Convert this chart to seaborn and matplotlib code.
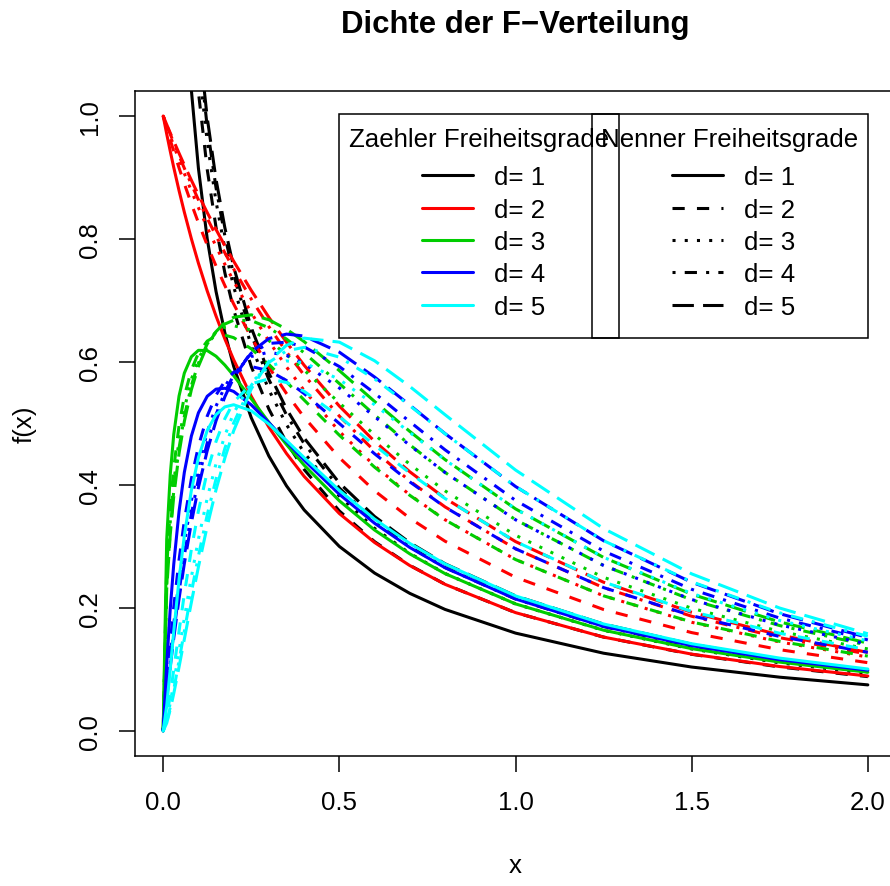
import numpy as np
import pandas as pd
import matplotlib
matplotlib.use("Agg")
import matplotlib.pyplot as plt
from matplotlib.lines import Line2D
from matplotlib.patches import Rectangle
import seaborn as sns

# ---------------- data ----------------
x_grid = [0, 0.01, 0.02, 0.03, 0.045, 0.06, 0.08, 0.1, 0.125, 0.15, 0.175,
          0.2, 0.25, 0.3, 0.35, 0.4, 0.5, 0.6, 0.7, 0.8, 1.0, 1.25, 1.5, 1.75, 2.0]

nan = float("nan")
# each list: rows for Nenner d2 = 1..5, Zaehler d1 fixed
dens_d1_1 = [
    [nan, 3.1516, 2.2067, 1.7842, 1.4359, 1.2259, 1.0420, 0.9151, 0.8003, 0.7147, 0.6476, 0.5931, 0.5093, 0.4470, 0.3986, 0.3595, 0.3001, 0.2568, 0.2238, 0.1977, 0.1592, 0.1265, 0.1040, 0.0875, 0.0750],
    [nan, 3.5092, 2.4630, 1.9961, 1.6120, 1.3808, 1.1786, 1.0391, 0.9131, 0.8190, 0.7452, 0.6853, 0.5926, 0.5234, 0.4692, 0.4253, 0.3578, 0.3079, 0.2694, 0.2386, 0.1924, 0.1527, 0.1247, 0.1041, 0.0884],
    [nan, 3.6511, 2.5647, 2.0802, 1.6818, 1.4423, 1.2329, 1.0885, 0.9581, 0.8608, 0.7844, 0.7224, 0.6264, 0.5546, 0.4982, 0.4525, 0.3819, 0.3295, 0.2888, 0.2561, 0.2067, 0.1638, 0.1334, 0.1108, 0.0936],
    [nan, 3.7267, 2.6188, 2.1250, 1.7190, 1.4750, 1.2618, 1.1149, 0.9821, 0.8831, 0.8054, 0.7422, 0.6445, 0.5714, 0.5140, 0.4672, 0.3951, 0.3414, 0.2995, 0.2658, 0.2147, 0.1699, 0.1381, 0.1144, 0.0962],
    [nan, 3.7734, 2.6523, 2.1527, 1.7420, 1.4953, 1.2797, 1.1312, 0.9970, 0.8970, 0.8185, 0.7546, 0.6558, 0.5819, 0.5238, 0.4765, 0.4033, 0.3488, 0.3062, 0.2719, 0.2197, 0.1738, 0.1411, 0.1166, 0.0978],
]
dens_d1_2 = [
    [1, 0.9707, 0.9429, 0.9163, 0.8787, 0.8437, 0.8004, 0.7607, 0.7155, 0.6747, 0.6375, 0.6037, 0.5443, 0.4941, 0.4512, 0.4141, 0.3536, 0.3065, 0.2690, 0.2385, 0.1925, 0.1527, 0.1250, 0.1048, 0.0894],
    [1, 0.9803, 0.9612, 0.9426, 0.9157, 0.8900, 0.8573, 0.8264, 0.7901, 0.7561, 0.7243, 0.6944, 0.6400, 0.5917, 0.5487, 0.5102, 0.4444, 0.3906, 0.3460, 0.3086, 0.2500, 0.1975, 0.1600, 0.1322, 0.1111],
    [1, 0.9835, 0.9674, 0.9517, 0.9288, 0.9066, 0.8782, 0.8510, 0.8187, 0.7880, 0.7589, 0.7313, 0.6802, 0.6339, 0.5920, 0.5538, 0.4871, 0.4312, 0.3839, 0.3435, 0.2789, 0.2198, 0.1768, 0.1447, 0.1203],
    [1, 0.9852, 0.9706, 0.9563, 0.9354, 0.9151, 0.8890, 0.8638, 0.8337, 0.8050, 0.7775, 0.7513, 0.7023, 0.6575, 0.6164, 0.5787, 0.5120, 0.4552, 0.4064, 0.3644, 0.2963, 0.2331, 0.1866, 0.1517, 0.1250],
    [1, 0.9861, 0.9725, 0.9591, 0.9395, 0.9203, 0.8956, 0.8717, 0.8430, 0.8155, 0.7891, 0.7639, 0.7164, 0.6726, 0.6322, 0.5948, 0.5283, 0.4710, 0.4215, 0.3784, 0.3080, 0.2419, 0.1930, 0.1561, 0.1278],
]
dens_d1_3 = [
    [0, 0.3118, 0.4164, 0.4823, 0.5447, 0.5819, 0.6085, 0.6190, 0.6186, 0.6094, 0.5950, 0.5779, 0.5401, 0.5019, 0.4657, 0.4323, 0.3743, 0.3268, 0.2880, 0.2559, 0.2067, 0.1639, 0.1339, 0.1120, 0.0955],
    [0, 0.2655, 0.3620, 0.4276, 0.4965, 0.5442, 0.5871, 0.6144, 0.6340, 0.6426, 0.6437, 0.6396, 0.6215, 0.5961, 0.5677, 0.5382, 0.4810, 0.4290, 0.3832, 0.3433, 0.2788, 0.2198, 0.1773, 0.1457, 0.1218],
    [0, 0.2472, 0.3394, 0.4036, 0.4734, 0.5237, 0.5718, 0.6050, 0.6323, 0.6485, 0.6567, 0.6590, 0.6519, 0.6348, 0.6123, 0.5869, 0.5335, 0.4816, 0.4337, 0.3905, 0.3183, 0.2499, 0.1996, 0.1620, 0.1334],
    [0, 0.2373, 0.3270, 0.3903, 0.4600, 0.5114, 0.5618, 0.5980, 0.6293, 0.6496, 0.6617, 0.6679, 0.6674, 0.6557, 0.6373, 0.6150, 0.5650, 0.5140, 0.4653, 0.4205, 0.3436, 0.2690, 0.2133, 0.1714, 0.1394],
    [0, 0.2311, 0.3191, 0.3818, 0.4514, 0.5033, 0.5550, 0.5929, 0.6267, 0.6494, 0.6641, 0.6727, 0.6767, 0.6687, 0.6533, 0.6332, 0.5860, 0.5359, 0.4871, 0.4413, 0.3612, 0.2822, 0.2224, 0.1773, 0.1429],
]
dens_d1_4 = [
    [0, 0.1088, 0.1980, 0.2712, 0.3570, 0.4205, 0.4796, 0.5174, 0.5443, 0.5559, 0.5573, 0.5521, 0.5303, 0.5014, 0.4707, 0.4404, 0.3849, 0.3378, 0.2984, 0.2655, 0.2147, 0.1701, 0.1388, 0.1160, 0.0988],
    [0, 0.0754, 0.1422, 0.2015, 0.2780, 0.3417, 0.4100, 0.4630, 0.5120, 0.5462, 0.5690, 0.5831, 0.5926, 0.5859, 0.5699, 0.5487, 0.5000, 0.4508, 0.4051, 0.3641, 0.2963, 0.2332, 0.1875, 0.1536, 0.1280],
    [0, 0.0636, 0.1216, 0.1743, 0.2447, 0.3055, 0.3741, 0.4302, 0.4859, 0.5283, 0.5600, 0.5829, 0.6089, 0.6160, 0.6107, 0.5973, 0.5577, 0.5112, 0.4644, 0.4203, 0.3435, 0.2692, 0.2138, 0.1724, 0.1412],
    [0, 0.0577, 0.1109, 0.1599, 0.2264, 0.2852, 0.3528, 0.4098, 0.4682, 0.5146, 0.5509, 0.5787, 0.6144, 0.6302, 0.6322, 0.6247, 0.5926, 0.5493, 0.5029, 0.4572, 0.3750, 0.2926, 0.2304, 0.1836, 0.1481],
    [0, 0.0540, 0.1043, 0.1510, 0.2149, 0.2721, 0.3389, 0.3961, 0.4559, 0.5044, 0.5434, 0.5743, 0.6163, 0.6381, 0.6454, 0.6422, 0.6160, 0.5756, 0.5299, 0.4836, 0.3976, 0.3094, 0.2418, 0.1907, 0.1520],
]
dens_d1_5 = [
    [0, 0.0410, 0.1008, 0.1621, 0.2464, 0.3174, 0.3913, 0.4446, 0.4887, 0.5144, 0.5270, 0.5305, 0.5207, 0.4990, 0.4724, 0.4446, 0.3913, 0.3446, 0.3050, 0.2716, 0.2197, 0.1740, 0.1419, 0.1185, 0.1008],
    [0, 0.0227, 0.0589, 0.0997, 0.1624, 0.2226, 0.2953, 0.3578, 0.4215, 0.4708, 0.5078, 0.5346, 0.5646, 0.5726, 0.5667, 0.5524, 0.5111, 0.4648, 0.4195, 0.3780, 0.3081, 0.2423, 0.1943, 0.1589, 0.1321],
    [0, 0.0171, 0.0453, 0.0781, 0.1306, 0.1833, 0.2505, 0.3117, 0.3786, 0.4346, 0.4804, 0.5169, 0.5668, 0.5928, 0.6017, 0.5988, 0.5716, 0.5305, 0.4854, 0.4409, 0.3612, 0.2824, 0.2236, 0.1797, 0.1465],
    [0, 0.0145, 0.0387, 0.0673, 0.1141, 0.1622, 0.2252, 0.2845, 0.3515, 0.4098, 0.4594, 0.5009, 0.5620, 0.5993, 0.6182, 0.6238, 0.6079, 0.5726, 0.5290, 0.4834, 0.3977, 0.3095, 0.2426, 0.1921, 0.1540],
    [0, 0.0129, 0.0348, 0.0609, 0.1040, 0.1492, 0.2092, 0.2667, 0.3331, 0.3923, 0.4439, 0.4882, 0.5563, 0.6010, 0.6271, 0.6388, 0.6323, 0.6020, 0.5602, 0.5143, 0.4244, 0.3292, 0.2555, 0.1999, 0.1581],
]

d_levels = [1, 2, 3, 4, 5]
legend_labels = ["d= 1", "d= 2", "d= 3", "d= 4", "d= 5"]
x_ticks = [0.0, 0.5, 1.0, 1.5, 2.0]
x_ticklabels = ["0.0", "0.5", "1.0", "1.5", "2.0"]
y_ticks = [0.0, 0.2, 0.4, 0.6, 0.8, 1.0]
y_ticklabels = ["0.0", "0.2", "0.4", "0.6", "0.8", "1.0"]

title_text = "Dichte der F\u2212Verteilung"
legend1_title = "Zaehler Freiheitsgrade"
legend2_title = "Nenner Freiheitsgrade"

# ---------------- long table ----------------
rows = []
for d1, block in zip(d_levels, [dens_d1_1, dens_d1_2, dens_d1_3, dens_d1_4, dens_d1_5]):
    for d2, ys in zip(d_levels, block):
        for xv, yv in zip(x_grid, ys):
            rows.append((d1, d2, xv, yv))
df = pd.DataFrame(rows, columns=["d1", "d2", "x", "f"]).dropna()

# ---------------- styling ----------------
sns.set_style("ticks")
plt.rcParams["font.family"] = ["Liberation Sans", "DejaVu Sans"]
plt.rcParams["text.color"] = "black"
plt.rcParams["axes.labelcolor"] = "black"
plt.rcParams["xtick.color"] = "black"
plt.rcParams["ytick.color"] = "black"
plt.rcParams["axes.edgecolor"] = "black"

colors = {1: "#000000", 2: "#FF0000", 3: "#00CD00", 4: "#0000FF", 5: "#00FFFF"}
dash_map = {1: "", 2: (4, 4), 3: (1, 3), 4: (1, 3, 4, 3), 5: (7, 3)}
LW = 2.2
FS = 18.6

W, H = 890, 887
fig = plt.figure(figsize=(W / 100, H / 100), dpi=100)
ax_l, ax_r, ax_t, ax_b = 135.0, 896.0, 92.4, 756.6
ax = fig.add_axes([ax_l / W, (H - ax_b) / H, (ax_r - ax_l) / W, (ax_b - ax_t) / H])


def fx(px):
    return (px - ax_l) / (ax_r - ax_l)


def fy(py):
    return (ax_b - py) / (ax_b - ax_t)


sns.lineplot(data=df, x="x", y="f", hue="d1", style="d2",
             palette=colors, dashes=dash_map, estimator=None, errorbar=None,
             sort=False, linewidth=LW, legend=False, ax=ax)

ax.set_xlim(-0.08, 2.08)
ax.set_ylim(-0.04, 1.04)
ax.set_xticks(x_ticks)
ax.set_xticklabels(x_ticklabels)
ax.set_yticks(y_ticks)
ax.set_yticklabels(y_ticklabels, rotation=90, va="center")
ax.tick_params(axis="both", direction="out", length=11.5, width=1.1,
               labelsize=FS, colors="black", labelcolor="black")
ax.tick_params(axis="x", pad=13)
ax.tick_params(axis="y", pad=12.3)
for s in ax.spines.values():
    s.set_visible(True)
    s.set_linewidth(1.1)
    s.set_color("black")

ax.set_xlabel("x", fontsize=FS, color="black")
ax.set_ylabel("f(x)", fontsize=FS, color="black")
ax.xaxis.set_label_coords(0.5, fy(853.6))
ax.yaxis.set_label_coords(fx(36.7), 0.5)

fig.text((ax_l + ax_r) / 2 / W, 1 - 33 / H, title_text, ha="center",
         va="baseline", fontsize=22.4, fontweight="bold", color="black")

# ---------------- legends ----------------
h1 = [Line2D([], [], color=colors[d], lw=LW) for d in d_levels]
h2 = [Line2D([], [], color="black", lw=LW,
             linestyle=("-" if dash_map[d] == "" else (0, dash_map[d])))
      for d in d_levels]

common = dict(frameon=False, borderaxespad=0, borderpad=0, handlelength=1.97,
              handletextpad=0.81, labelspacing=0.323, fontsize=FS,
              labelcolor="black", loc="center", bbox_transform=ax.transAxes)
leg1 = ax.legend(h1, legend_labels, bbox_to_anchor=(fx(484), fy(243)), **common)
ax.add_artist(leg1)
leg2 = ax.legend(h2, legend_labels, bbox_to_anchor=(fx(734), fy(243)), **common)

# legend boxes and titles
for (x0, x1), ttl in [((339, 619), legend1_title), ((592, 868), legend2_title)]:
    ax.add_patch(Rectangle((fx(x0), fy(339)), fx(x1) - fx(x0), fy(115) - fy(339),
                           transform=ax.transAxes, fill=False, edgecolor="black",
                           linewidth=1.1, zorder=5, clip_on=False))
    ax.text(fx((x0 + x1) / 2), fy(147), ttl, transform=ax.transAxes,
            ha="center", va="baseline", fontsize=FS, zorder=6, color="black")

fig.savefig("out.png", dpi=100)
